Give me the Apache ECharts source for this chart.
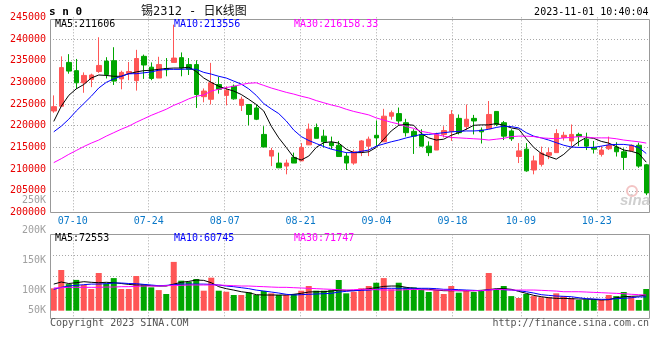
<!DOCTYPE html>
<html><head><meta charset="utf-8">
<script src="https://cdn.jsdelivr.net/npm/echarts@6/dist/echarts.min.js"></script>
<style>html,body{margin:0;padding:0;background:#fff}#c{width:660px;height:360px}</style>
</head><body><div id="c"></div><script>
// ---------- data ----------
const dates = ['07-05','07-06','07-07','07-10','07-11','07-12','07-13','07-14','07-17','07-18','07-19','07-20','07-21','07-24','07-25','07-26','07-27','07-28','07-31',
'08-01','08-02','08-03','08-04','08-07','08-08','08-09','08-10','08-11','08-14','08-15','08-16','08-17','08-18','08-21','08-22','08-23','08-24','08-25','08-28','08-29','08-30','08-31',
'09-01','09-04','09-05','09-06','09-07','09-08','09-11','09-12','09-13','09-14','09-15','09-18','09-19','09-20','09-21','09-22','09-25','09-26','09-27','09-28',
'10-09','10-10','10-11','10-12','10-13','10-16','10-17','10-18','10-19','10-20','10-23','10-24','10-25','10-26','10-27','10-30','10-31','11-01'];
const tickDates = ['07-10','07-24','08-07','08-21','09-04','09-18','10-09','10-23'];

const open  = [223400,224500,234600,232700,229900,230700,232500,234900,235000,230800,232000,230400,236000,233500,231000,233200,234600,235700,234100,234100,
226700,226100,229500,227000,229100,224700,224900,224100,218000,213000,211400,210700,212700,211900,215600,219600,217600,216100,215500,213000,
211400,214000,215300,217800,216300,222200,222800,220700,218700,218000,215300,214400,218000,218700,221700,219800,221700,219000,219300,223300,
220700,218800,212900,214600,209800,211100,213200,213800,217300,216500,218000,216900,215000,213400,214700,215100,214000,214200,215500,211000];
const close = [224400,233400,232600,229900,231600,231700,233900,231800,230300,232300,232500,235500,234000,230900,234100,232900,235600,233300,233000,227200,
228000,229900,228400,228200,226200,226100,222600,221500,215100,214300,210300,211400,211400,215000,219200,217100,216300,215400,212900,211400,
214000,216500,216900,217200,222200,223000,221100,218400,217600,215300,213800,218000,218900,222600,218400,221500,221100,218600,222600,220300,
217600,217000,214200,209600,211900,213700,213800,218200,217800,218000,217500,215300,214600,214400,215500,214000,212700,215500,210700,204500];
const low   = [223000,224300,232000,228500,227600,228900,232200,230900,229400,228400,230500,228100,230800,230500,231000,231400,234600,231400,231700,224100,
225400,224900,227400,224700,226000,223400,220100,221300,215100,210700,210300,208800,211400,211900,215600,217100,215000,214600,212900,209800,
211000,213000,213000,215300,216300,221400,220100,217500,213500,215300,213000,214400,217300,216500,218000,219000,218000,215900,219300,219900,
216700,216500,211400,209400,208800,210600,212300,213800,216600,215300,215300,214400,213600,212900,214400,212900,209800,214200,210300,204000];
const high  = [227000,236000,236500,235400,232300,232000,240400,235800,238100,232700,234700,237500,236400,234600,235900,235600,243300,236900,235600,235100,
228600,234500,231300,229100,229500,226700,224900,224900,219900,214900,213800,212200,213800,216000,220500,220500,219100,217500,216500,213800,
214500,216700,217500,221200,223900,223500,224200,221600,219200,219200,216400,218400,219900,223600,222600,224900,222500,219600,225700,223300,
221100,219200,216000,216000,213100,215200,214900,219200,218600,220300,218400,218400,216500,215300,217500,216200,214800,215700,216100,211200];

const ma5  = [221000,224500,227000,228500,229500,231000,231700,231600,231400,231400,232000,232400,232700,232800,233000,233200,233300,233300,233500,232500,
231000,230000,229100,228500,228000,227200,226100,224900,223400,219900,217200,215000,212700,212100,213000,215000,216100,216300,216000,214600,
213800,213800,214000,215000,216900,218800,220100,220300,220100,218200,217200,216700,216900,217800,218400,219200,220100,220200,220200,220500,
220100,219500,219200,217000,215000,213600,212900,212300,213400,215000,216300,217300,217100,216400,216000,215200,214400,214100,213600,211600];
const ma10 = [218600,219900,221500,223400,225100,226800,228700,230000,230800,231400,232000,232000,232200,232400,232800,233000,233000,233000,233100,233000,
232300,231900,231400,231000,230300,229600,228500,227000,225100,223900,222800,221100,219000,217500,216600,215900,215200,214600,214200,213800,
213800,214100,214400,215300,215800,216300,216700,217200,217600,218000,218000,218200,218400,218600,218700,218800,218800,218900,219200,219600,
219900,219800,219500,218400,217600,217200,216700,216100,215500,215100,215000,215000,215000,215300,215600,215700,215700,215500,215000,213600];
const ma30 = [211500,212400,213400,214300,215200,216000,216700,217600,218400,219200,219900,220800,221600,222400,223100,223800,224700,225400,226200,226800,
227100,228000,228400,228800,229100,229500,229800,229900,229300,228700,228200,227700,227300,226800,226400,225800,225300,224800,224400,223800,
223300,222900,222500,221800,221300,220800,220400,219800,219400,218700,218400,218000,217600,217300,217200,217100,217000,216900,216700,216900,
217100,217500,217600,217600,217500,217200,217100,217000,217200,217300,217500,217400,217200,217200,217200,217000,216700,216500,216300,216000];

const volume = [104000,134500,111000,118000,109500,102800,129500,112000,121000,102800,102800,124500,110600,105600,101000,94500,148000,116700,115000,119500,
100000,121700,100000,98300,92800,92800,97300,92800,99500,95600,92800,92800,94500,100000,107800,100000,100000,101000,117800,95600,
98300,104000,107800,113300,121000,102300,113300,105600,105600,102300,97800,101000,94500,107800,96700,100000,97800,100000,129500,102300,
107800,91000,87800,94500,91000,89000,89000,95600,91000,87800,84500,85600,85600,84500,92800,91000,97800,90000,84500,102800];
const vma5  = [111000,114500,112000,113300,115000,114000,113300,114000,113300,112000,110500,109500,109500,108300,107800,107800,111000,114000,115500,117800,
117200,113300,106700,103400,101000,98300,96700,93400,92800,92800,92800,92800,94000,95600,97800,98300,98300,99500,101000,100600,
100000,101700,103400,105000,107200,107800,107800,105600,104000,102800,102300,101100,100000,100000,100000,100000,100000,100600,101700,103400,
103400,102300,98900,95600,92200,90000,88300,87200,87200,86700,86100,86100,85600,84500,85000,88300,90000,90600,91100,92800];
const vma10 = [102300,105600,107800,109000,110000,111000,111000,111700,112800,112800,112000,111700,110500,109500,108300,108900,110000,111000,111000,111000,
111000,110500,109500,107800,106700,105000,103400,101000,99500,97800,96100,94000,92800,93400,94000,94500,95000,95600,97800,98900,
100000,100600,101000,102300,104000,104000,104000,104000,104000,104000,104000,103400,102300,102300,101700,101100,100600,100000,101100,102300,
101700,101100,100000,98300,96100,93400,92200,91100,90600,90000,88300,86700,86100,85600,85600,86700,87200,88300,89700,89700];
const vma30 = [104500,105000,105600,105600,105600,105600,105600,106100,106100,106700,106700,107200,107800,107800,107800,108300,108900,108900,109500,109500,
109500,109500,109500,108900,108300,107800,107800,107200,106700,106100,105600,105600,105000,104500,104000,103400,102800,102300,101700,101100,
101700,102300,102300,101700,101100,101100,101100,101700,102300,101700,101100,101100,101100,100600,100000,100000,100000,100000,101100,102300,
101700,101100,101100,101100,101100,100600,100000,99400,98300,98300,98300,97800,97200,96700,96100,95600,95000,94000,93400,92800];

const priceMin = 200000, priceMax = 245000, priceStep = 5000;
const volTickValues = [66667,100000,150000,200000,250000];
const volTickLabels = ['50K','100K','150K','200K','250K'];
const priceLegend = ['MA5:211606','MA10:213556','MA30:216158.33'];
const volLegend = ['MA5:72553','MA10:60745','MA30:71747'];
const symbolText = 's n 0';
const titleText = '锡2312 - 日K线图';
const timeText = '2023-11-01 10:40:04';

// ---------- chart ----------
const RED = '#ff5656', GREEN = '#00a600';
const MA_COLORS = ['#000000', '#0000ff', '#ff00ff'];
const MONO = "'DejaVu Sans Mono', 'Noto Sans CJK SC', monospace";
const isTick = (i, v) => tickDates.indexOf(v) >= 0;
const dotted = { type: [1, 2], color: '#a8a8a8', width: 1 };

const chart = echarts.init(document.getElementById('c'), null, { renderer: 'canvas', width: 660, height: 360 });

const candleData = open.map((o, i) => [o, close[i], low[i], high[i]]);
const volData = volume.map((v, i) => ({ value: v, itemStyle: { color: close[i] >= open[i] ? RED : GREEN } }));

function maLine(data, color, xi, yi) {
  return { type: 'line', data: data, xAxisIndex: xi, yAxisIndex: yi, symbol: 'none', silent: true,
    lineStyle: { color: color, width: 1 }, z: 4 };
}
function txt(text, x, y, color, align, font) {
  return { type: 'text', z: 110, style: { text: text, x: x, y: y, fill: color, align: align || 'left', verticalAlign: 'middle', font: font || ('10px ' + MONO) } };
}

const option = {
  animation: false,
  backgroundColor: '#ffffff',
  grid: [
    { left: 50, top: 17.3, width: 600, height: 195.2 },
    { left: 50, top: 200.7, width: 600, height: 110 },
    { left: 50, top: 234.3, width: 600, height: 84 }
  ],
  xAxis: [
    { gridIndex: 0, type: 'category', data: dates, boundaryGap: true, show: false },
    { gridIndex: 0, type: 'category', data: dates, boundaryGap: false, position: 'bottom',
      axisLine: { show: false }, axisTick: { show: false },
      axisLabel: { interval: isTick, color: '#0a78c8', fontFamily: MONO, fontSize: 10, margin: 4 },
      splitLine: { show: true, interval: isTick, lineStyle: dotted } },
    { gridIndex: 1, type: 'category', data: dates, boundaryGap: true, show: false },
    { gridIndex: 2, type: 'category', data: dates, boundaryGap: false, position: 'bottom',
      axisLine: { show: false }, axisTick: { show: false }, axisLabel: { show: false },
      splitLine: { show: true, interval: isTick, lineStyle: dotted } }
  ],
  yAxis: [
    { gridIndex: 0, type: 'value', min: priceMin, max: priceMax, interval: priceStep,
      axisLine: { show: false }, axisTick: { show: false },
      axisLabel: { color: '#e80000', fontFamily: MONO, fontSize: 10, margin: 4, padding: [0, 0, 4, 0],
        formatter: v => String(v) },
      splitLine: { show: true, showMinLine: false, showMaxLine: false, lineStyle: dotted } },
    { gridIndex: 1, type: 'value', min: volTickValues[0], max: volTickValues[volTickValues.length - 1],
      axisLine: { show: false }, axisTick: { show: false }, splitLine: { show: false },
      axisLabel: { customValues: volTickValues, color: '#a0a0a0', fontFamily: MONO, fontSize: 10, margin: 4,
        formatter: v => volTickLabels[volTickValues.indexOf(v)] } },
    { gridIndex: 2, type: 'value', min: 0, max: 4, interval: 1,
      axisLine: { show: false }, axisTick: { show: false }, axisLabel: { show: false },
      splitLine: { show: true, showMinLine: false, showMaxLine: false, lineStyle: dotted } }
  ],
  series: [
    { type: 'candlestick', data: candleData, xAxisIndex: 0, yAxisIndex: 0, barWidth: 5, silent: true,
      itemStyle: { color: RED, color0: GREEN, borderColor: RED, borderColor0: GREEN, borderWidth: 1 }, z: 3 },
    maLine(ma5, MA_COLORS[0], 0, 0),
    maLine(ma10, MA_COLORS[1], 0, 0),
    maLine(ma30, MA_COLORS[2], 0, 0),
    { type: 'bar', data: volData, xAxisIndex: 2, yAxisIndex: 1, barWidth: 6, silent: true, z: 3 },
    maLine(vma5, MA_COLORS[0], 2, 1),
    maLine(vma10, MA_COLORS[1], 2, 1),
    maLine(vma30, MA_COLORS[2], 2, 1)
  ],
  graphic: [
    { type: 'rect', z: 100, silent: true, shape: { x: 50.5, y: 19.5, width: 599, height: 193 }, style: { fill: null, stroke: '#999', lineWidth: 1 } },
    { type: 'rect', z: 100, silent: true, shape: { x: 50.5, y: 234.5, width: 599, height: 84 }, style: { fill: null, stroke: '#999', lineWidth: 1 } },
    txt(symbolText, 49, 12, '#000', 'left', "bold 11px " + MONO),
    txt(titleText, 141, 12, '#111', 'left', "12px " + MONO),
    txt(timeText, 648.5, 12, '#000', 'right'),
    txt(priceLegend[0], 55, 24, MA_COLORS[0]),
    txt(priceLegend[1], 174, 24, MA_COLORS[1]),
    txt(priceLegend[2], 294, 24, MA_COLORS[2]),
    txt(volLegend[0], 55, 238.5, MA_COLORS[0]),
    txt(volLegend[1], 174, 238.5, MA_COLORS[1]),
    txt(volLegend[2], 294, 238.5, MA_COLORS[2]),
    txt('Copyright 2023 SINA.COM', 50, 323.5, '#555'),
    txt('http://finance.sina.com.cn', 649, 323.5, '#555', 'right'),
    { type: 'circle', z: 90, silent: true, shape: { cx: 632, cy: 191, r: 5 }, style: { fill: null, stroke: '#f3c4c4', lineWidth: 2 } },
    txt('sina', 635, 201, '#cfcfcf', 'center', 'italic bold 15px Arial, sans-serif')
  ]
};
chart.setOption(option);
</script></body></html>
